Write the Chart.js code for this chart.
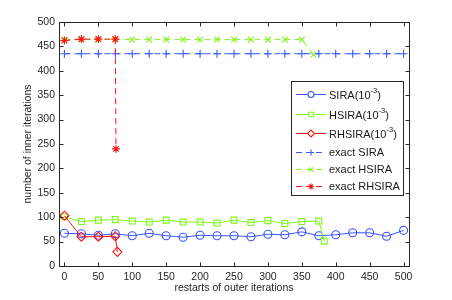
<!DOCTYPE html>
<html>
<head>
<meta charset="utf-8">
<script src="https://cdn.jsdelivr.net/npm/chart.js@4.4.0/dist/chart.umd.min.js"></script>
<style>
html, body { margin: 0; padding: 0; background: #fff; }
#wrap { width: 452px; height: 300px; }
</style>
</head>
<body>
<div id="wrap"><canvas id="graphCanvas" width="452" height="300"></canvas></div>
<script>
// restarts of outer iterations
var restarts = [0, 25, 50, 75, 100, 125, 150, 175, 200, 225, 250, 275, 300, 325, 350, 375, 400, 425, 450, 475, 500];
var siraVals = [67, 66, 63, 66, 62, 67, 62, 59, 63, 62, 62, 60, 65, 64, 70, 62, 64, 68, 68, 61, 73];

var hsiraX = [0, 25, 50, 75, 100, 125, 150, 175, 200, 225, 250, 275, 300, 325, 350, 375, 383];
var hsiraVals = [101, 91, 94, 95, 92, 90, 94, 90, 90, 88, 94, 89, 93, 87, 91, 92, 51];

var rhsiraX = [0, 25, 50, 75, 78];
var rhsiraVals = [103, 60, 60, 61, 29];

var exactSiraVals = [435, 435, 435, 435, 435, 435, 435, 435, 435, 435, 435, 435, 435, 435, 435, 435, 435, 435, 435, 435, 435];

var exactHsiraX = [0, 25, 50, 75, 100, 125, 150, 175, 200, 225, 250, 275, 300, 325, 350, 367];
var exactHsiraVals = [464, 464, 464, 464, 464, 464, 464, 464, 464, 464, 464, 464, 464, 464, 464, 433];

var exactRhsiraX = [0, 25, 50, 75, 76];
var exactRhsiraVals = [462, 465, 465, 465, 240];

var xTicks = [0, 50, 100, 150, 200, 250, 300, 350, 400, 450, 500];
var yTicks = [0, 50, 100, 150, 200, 250, 300, 350, 400, 450, 500];

var seriesNames = ['SIRA(10^{-3})', 'HSIRA(10^{-3})', 'RHSIRA(10^{-3})', 'exact SIRA', 'exact HSIRA', 'exact RHSIRA'];

var blue = '#3857ff';
var green = '#80f51e';
var red = '#ff1414';
var axisColor = '#262626';
var fontFamily = '"Liberation Sans", Arial, Helvetica, sans-serif';

function pts(xs, ys) {
    var out = [];
    for (var i in xs) {
        out.push({ x: xs[i], y: ys[i] });
    }
    return out;
}

function series(label, xs, ys, color, style, radius, dashed, order) {
    return {
        label: label,
        data: pts(xs, ys),
        borderColor: color,
        backgroundColor: color,
        borderWidth: 1,
        borderDash: dashed ? [6, 4] : [],
        pointStyle: style,
        pointRadius: radius,
        pointBorderColor: color,
        pointBackgroundColor: 'rgba(0,0,0,0)',
        pointBorderWidth: 1.1,
        showLine: true,
        tension: 0,
        order: order
    };
}

Chart.defaults.font.family = fontFamily;
Chart.defaults.font.size = 10;
Chart.defaults.color = axisColor;

// box round the plot with inward ticks, like the original figure
var boxPlugin = {
    id: 'box',
    afterDatasetsDraw: function (chart) {
        var ctx = chart.ctx;
        var a = chart.chartArea;
        var xs = chart.scales.x, ys = chart.scales.y;
        var L = Math.round(a.left) + 0.5, R = Math.round(a.right) + 0.5;
        var T = Math.round(a.top) + 0.5, B = Math.round(a.bottom) + 0.5;
        var tl = 4;
        ctx.save();
        ctx.strokeStyle = axisColor;
        ctx.lineWidth = 1;
        ctx.setLineDash([]);
        ctx.strokeRect(L, T, R - L, B - T);
        ctx.beginPath();
        xTicks.forEach(function (v) {
            var px = Math.round(xs.getPixelForValue(v)) + 0.5;
            ctx.moveTo(px, B); ctx.lineTo(px, B - tl);
            ctx.moveTo(px, T); ctx.lineTo(px, T + tl);
        });
        yTicks.forEach(function (v) {
            var py = Math.round(ys.getPixelForValue(v)) + 0.5;
            ctx.moveTo(L, py); ctx.lineTo(L + tl, py);
            ctx.moveTo(R, py); ctx.lineTo(R - tl, py);
        });
        ctx.stroke();
        ctx.restore();
    }
};

// legend box inside the plot (upper right)
var legendPlugin = {
    id: 'innerLegend',
    afterDraw: function (chart) {
        var ctx = chart.ctx;
        var bx = 291.5, by = 81.5, bw = 112, bh = 114;
        var rows = [94, 114, 133, 152, 169, 186];
        ctx.save();
        ctx.fillStyle = '#fff';
        ctx.fillRect(bx, by, bw, bh);
        ctx.strokeStyle = axisColor;
        ctx.lineWidth = 1;
        ctx.setLineDash([]);
        ctx.strokeRect(bx, by, bw, bh);
        chart.data.datasets.forEach(function (ds, i) {
            var y = rows[i] + 0.5;
            ctx.strokeStyle = ds.borderColor;
            ctx.lineWidth = ds.borderWidth;
            ctx.setLineDash(ds.borderDash);
            ctx.beginPath();
            ctx.moveTo(296, y);
            ctx.lineTo(326, y);
            ctx.stroke();
            ctx.setLineDash([]);
            ctx.fillStyle = '#fff';
            ctx.strokeStyle = ds.pointBorderColor;
            ctx.lineWidth = 1.1;
            Chart.helpers.drawPoint(ctx, {
                pointStyle: ds.pointStyle,
                radius: ds.pointRadius - 1,
                borderWidth: 1.1,
                rotation: 0
            }, 311, y);
            ctx.fillStyle = '#1a1a1a';
            ctx.textBaseline = 'middle';
            ctx.textAlign = 'left';
            var m = seriesNames[i].match(/^(.*)\^\{(.*)\}(.*)$/);
            var x = 329;
            if (m) {
                ctx.font = '11px ' + fontFamily;
                ctx.fillText(m[1], x, y + 1);
                x += ctx.measureText(m[1]).width;
                ctx.font = '7.5px ' + fontFamily;
                ctx.fillText(m[2], x, y - 4);
                x += ctx.measureText(m[2]).width;
                ctx.font = '11px ' + fontFamily;
                ctx.fillText(m[3], x, y + 1);
            } else {
                ctx.font = '11px ' + fontFamily;
                ctx.fillText(seriesNames[i], x, y);
            }
        });
        ctx.restore();
    }
};

var chartdata = {
    datasets: [
        series(seriesNames[0], restarts, siraVals, blue, 'circle', 4, false, 6),
        series(seriesNames[1], hsiraX, hsiraVals, green, 'rect', 4.2, false, 5),
        series(seriesNames[2], rhsiraX, rhsiraVals, red, 'rectRot', 4.5, false, 4),
        series(seriesNames[3], restarts, exactSiraVals, blue, 'cross', 4, true, 3),
        series(seriesNames[4], exactHsiraX, exactHsiraVals, green, 'crossRot', 4, true, 2),
        series(seriesNames[5], exactRhsiraX, exactRhsiraVals, red, 'star', 4, true, 1)
    ]
};

var graphTarget = document.getElementById('graphCanvas');

var lineGraph = new Chart(graphTarget, {
    type: 'scatter',
    data: chartdata,
    options: {
        responsive: false,
        animation: false,
        devicePixelRatio: 1,
        layout: { padding: { top: 22, right: 43, left: 0, bottom: 0 } },
        plugins: {
            legend: { display: false },
            tooltip: { enabled: false }
        },
        scales: {
            x: {
                type: 'linear',
                min: -8,
                max: 508,
                afterBuildTicks: function (s) { s.ticks = xTicks.map(function (v) { return { value: v }; }); },
                afterFit: function (s) { s.height = 34; },
                grid: { display: false, drawTicks: false },
                border: { display: false },
                ticks: { padding: 5, maxRotation: 0, autoSkip: false, color: axisColor, font: { size: 10.5 } },
                title: { display: true, text: 'restarts of outer iterations', color: axisColor, font: { size: 10.5 }, padding: { top: 0, bottom: 6 } }
            },
            y: {
                type: 'linear',
                min: 0,
                max: 500,
                afterBuildTicks: function (s) { s.ticks = yTicks.map(function (v) { return { value: v }; }); },
                afterFit: function (s) { s.width = 59; },
                grid: { display: false, drawTicks: false },
                border: { display: false },
                ticks: { padding: 4, autoSkip: false, color: axisColor, font: { size: 10.5 } },
                title: { display: true, text: 'number of inner iterations', color: axisColor, font: { size: 10.5 }, padding: { top: 22, bottom: 0 } }
            }
        }
    },
    plugins: [boxPlugin, legendPlugin]
});
</script>
</body>
</html>
